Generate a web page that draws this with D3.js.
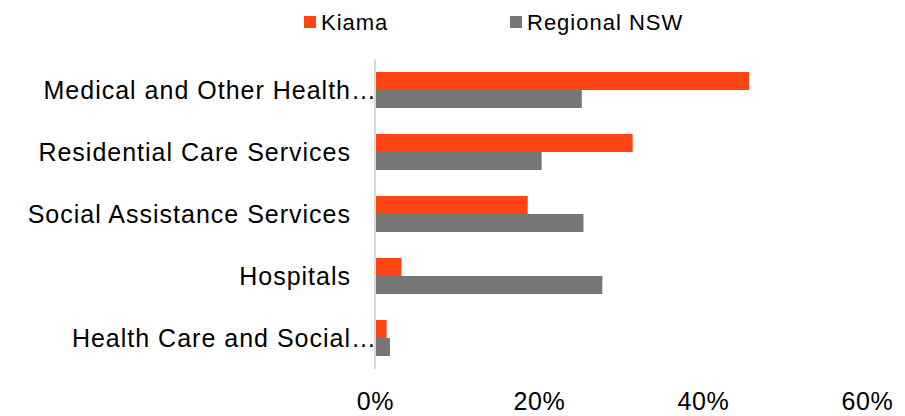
<!DOCTYPE html>
<html>
<head>
<meta charset="utf-8">
<script src="https://cdn.jsdelivr.net/npm/d3@7"></script>
<style>
  html, body { margin: 0; padding: 0; background: #fff; }
  text { font-family: "Liberation Sans", Arial, sans-serif; fill: #000; }
</style>
</head>
<body>
<svg id="chart" width="905" height="416"></svg>
<script>
// Industry sub-sectors (health care and social assistance), top to bottom
const categories = [
  "Medical and Other Health Care Services",
  "Residential Care Services",
  "Social Assistance Services",
  "Hospitals",
  "Health Care and Social Assistance, nfd"
];
// Shown labels (long names truncated with an ellipsis)
const shownLabels = [
  ["Medical and Other Health", "…"],
  ["Residential Care Services", ""],
  ["Social Assistance Services", ""],
  ["Hospitals", ""],
  ["Health Care and Social", "…"]
];
const seriesNames = ["Kiama", "Regional NSW"];
const kiamaValues = [45.5, 31.3, 18.5, 3.1, 1.3];
const regionalValues = [25.1, 20.2, 25.3, 27.6, 1.7];
const tickValues = [0, 20, 40, 60];

const colors = ["#FF4514", "#767676"];

const svg = d3.select("#chart");

const x = d3.scaleLinear().domain([0, 60]).range([375, 867]);
const y = d3.scaleBand().domain(categories).range([59, 369]).paddingInner(0.42).paddingOuter(0.21);
const ySub = d3.scaleBand().domain(seriesNames).range([0, y.bandwidth()]);

// vertical category axis line
svg.append("line")
  .attr("x1", x(0)).attr("x2", x(0))
  .attr("y1", 59).attr("y2", 369)
  .attr("stroke", "#D9D9D9").attr("stroke-width", 2);

const rows = categories.map((c, i) => ({ cat: c, vals: [kiamaValues[i], regionalValues[i]] }));

const g = svg.append("g");
rows.forEach(r => {
  r.vals.forEach((v, j) => {
    g.append("rect")
      .attr("x", x(0) + 1)
      .attr("y", y(r.cat) + ySub(seriesNames[j]))
      .attr("width", x(v) - x(0))
      .attr("height", ySub.bandwidth())
      .attr("fill", colors[j]);
  });
});

// category labels
categories.forEach((c, i) => {
  svg.append("text")
    .attr("x", 351)
    .attr("y", y(c) + y.bandwidth() / 2)
    .attr("dy", "0.35em")
    .attr("text-anchor", "end")
    .style("font-size", "25px")
    .style("letter-spacing", "1px")
    .text(shownLabels[i][0]);
  if (shownLabels[i][1]) {
    svg.append("text")
      .attr("x", 351)
      .attr("y", y(c) + y.bandwidth() / 2)
      .attr("dy", "0.35em")
      .attr("text-anchor", "start")
      .style("font-size", "25px")
      .text(shownLabels[i][1]);
  }
});

// value axis tick labels
const xAxis = d3.axisBottom(x).tickValues(tickValues).tickFormat(d => d + "%").tickSize(0);
const ax = svg.append("g").attr("transform", "translate(0,388)").call(xAxis);
ax.select(".domain").remove();
ax.selectAll("text")
  .style("font-size", "25px")
  .style("letter-spacing", "0.6px")
  .attr("dy", 0)
  .attr("y", 22);

// legend
const legendItems = [
  { name: seriesNames[0], color: colors[0], x: 304 },
  { name: seriesNames[1], color: colors[1], x: 510 }
];
legendItems.forEach(it => {
  svg.append("rect").attr("x", it.x).attr("y", 16).attr("width", 12).attr("height", 12).attr("fill", it.color);
  svg.append("text").attr("x", it.x + 17).attr("y", 30)
    .style("font-size", "22px")
    .style("letter-spacing", "1px")
    .text(it.name);
});
</script>
</body>
</html>
